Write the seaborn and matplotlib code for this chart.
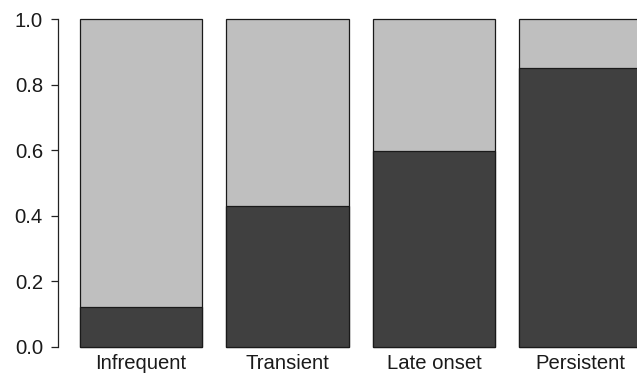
"""Stacked proportion bars by trajectory group."""

import matplotlib.pyplot as plt
import pandas as pd
import seaborn as sns

categories = ["Infrequent", "Transient", "Late onset", "Persistent"]
lower_share = [0.123, 0.430, 0.597, 0.852]
upper_share = [0.877, 0.570, 0.403, 0.148]
y_ticks = [0.0, 0.2, 0.4, 0.6, 0.8, 1.0]
y_tick_labels = ["0.0", "0.2", "0.4", "0.6", "0.8", "1.0"]

DARK = "#404040"
LIGHT = "#bfbfbf"


def main() -> None:
    data = pd.DataFrame(
        {"group": categories, "lower": lower_share, "upper": upper_share}
    )
    data["total"] = data["lower"] + data["upper"]

    sns.set_theme(style="white")
    plt.rcParams["font.family"] = ["Liberation Sans", "DejaVu Sans"]

    fig = plt.figure(figsize=(6.37, 3.75), dpi=100)
    ax = fig.add_axes([0.0903, 0.04, 0.9097, 0.944])

    bar_kw = dict(width=0.833, edgecolor="#1a1a1a", linewidth=0.9, ax=ax)
    sns.barplot(data=data, x="group", y="total", color=LIGHT, saturation=1, **bar_kw)
    sns.barplot(data=data, x="group", y="lower", color=DARK, saturation=1, **bar_kw)

    ax.set_xlim(-0.57, 3.386)
    ax.set_ylim(-0.04, 1.04)
    ax.set_yticks(y_ticks)
    ax.set_yticklabels(y_tick_labels)
    ax.set_xlabel("")
    ax.set_ylabel("")

    for side in ["top", "right", "bottom"]:
        ax.spines[side].set_visible(False)
    ax.spines["left"].set_bounds(0, 1)
    ax.spines["left"].set_color("#222222")
    ax.spines["left"].set_linewidth(0.9)

    ax.tick_params(axis="y", left=True, length=5.3, width=0.9, color="#222222",
                   pad=5.2, labelsize=14.6, labelcolor="#1a1a1a")
    ax.tick_params(axis="x", bottom=False, length=0, pad=-4.5,
                   labelsize=14.6, labelcolor="#1a1a1a")

    fig.savefig("out.png", dpi=100)
    plt.close(fig)


if __name__ == "__main__":
    main()
